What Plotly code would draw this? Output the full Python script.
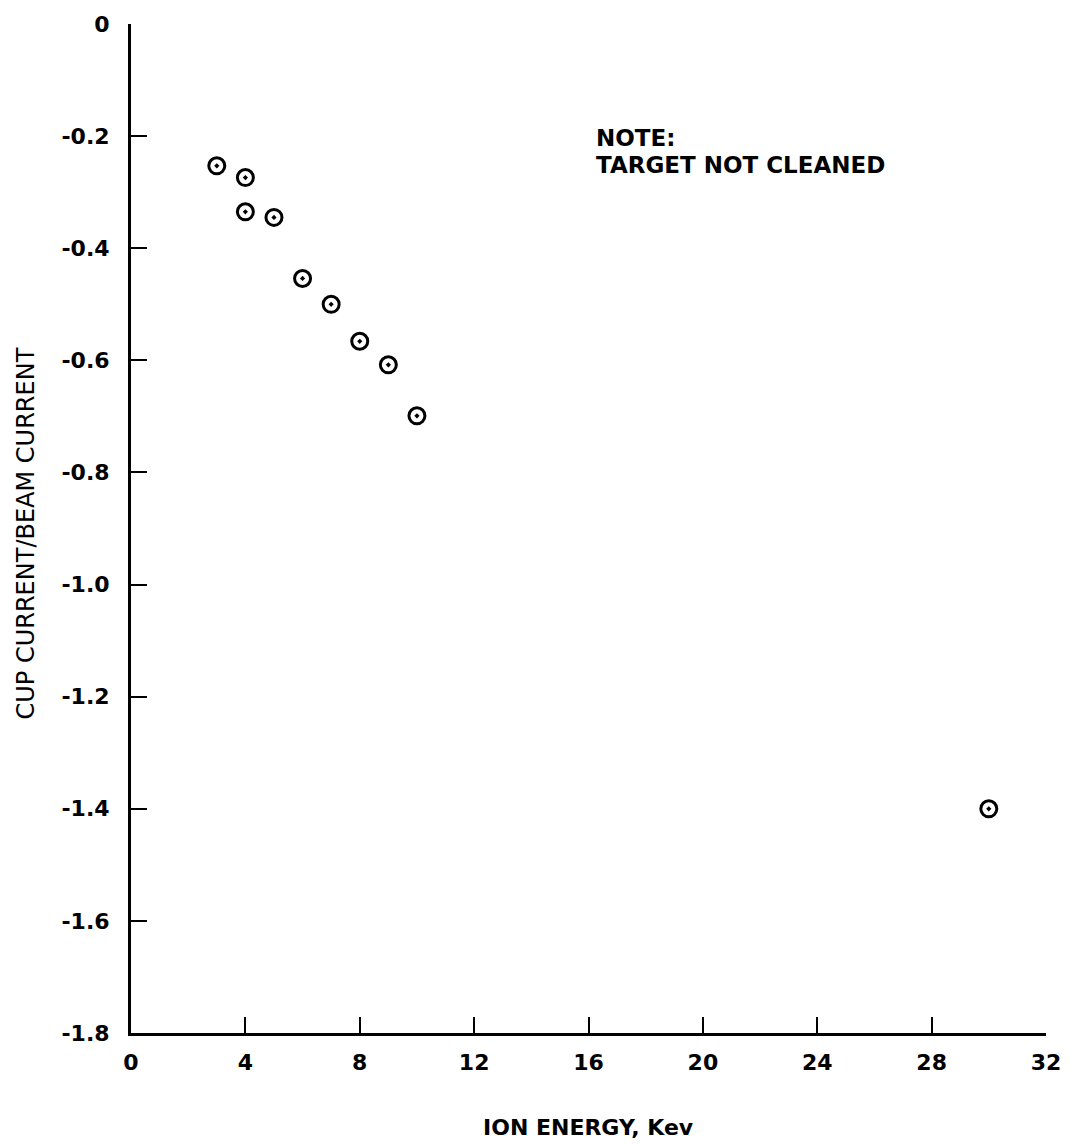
import plotly.graph_objects as go

# Data
ion_energy_kev = [3, 4, 4, 5, 6, 7, 8, 9, 10, 30]
cup_over_beam = [-0.253, -0.274, -0.335, -0.345, -0.454, -0.50, -0.566, -0.608, -0.699, -1.40]

x_tick_vals = [0, 4, 8, 12, 16, 20, 24, 28, 32]
y_tick_vals = [0, -0.2, -0.4, -0.6, -0.8, -1.0, -1.2, -1.4, -1.6, -1.8]
y_tick_text = ["0", "-0.2", "-0.4", "-0.6", "-0.8", "-1.0", "-1.2", "-1.4", "-1.6", "-1.8"]

FONT = "DejaVu Sans"

fig = go.Figure()
fig.add_trace(go.Scatter(
    x=ion_energy_kev, y=cup_over_beam, mode="markers",
    marker=dict(symbol="circle-open-dot", size=16, color="black",
                line=dict(width=3, color="black")),
    showlegend=False, hoverinfo="x+y",
))

fig.update_layout(
    width=1075, height=1146,
    margin=dict(l=131, r=29, t=18, b=113),
    paper_bgcolor="white", plot_bgcolor="white",
    font=dict(family=FONT, color="black"),
    xaxis=dict(range=[0, 32], tickvals=x_tick_vals, ticks="inside", ticklen=16,
               tickwidth=2, tickcolor="black", showline=True, linewidth=3,
               linecolor="black", showgrid=False, zeroline=False,
               tickfont=dict(family=FONT, size=22, weight="bold"),
               ticklabelstandoff=8),
    yaxis=dict(range=[-1.8, 0], tickvals=y_tick_vals, ticktext=y_tick_text,
               ticks="inside", ticklen=16, tickwidth=2, tickcolor="black",
               showline=True, linewidth=3, linecolor="black", showgrid=False,
               zeroline=False,
               tickfont=dict(family=FONT, size=22, weight="bold"),
               ticklabelstandoff=14),
    annotations=[
        dict(text="CUP CURRENT/BEAM CURRENT", xref="paper", yref="paper",
             x=0, y=0.5, xanchor="center", yanchor="middle", xshift=-106,
             yshift=-5, textangle=-90, showarrow=False,
             font=dict(family=FONT, size=24)),
        dict(text="ION ENERGY, Kev", xref="x", yref="paper", x=16, y=0,
             xanchor="center", yanchor="middle", yshift=-94, showarrow=False,
             font=dict(family=FONT, size=22, weight="bold")),
        dict(text="NOTE:", xref="x", yref="y",
             x=16.2, y=-0.204, xanchor="left", yanchor="middle", align="left",
             showarrow=False, font=dict(family=FONT, size=23, weight="bold")),
        dict(text="TARGET NOT CLEANED", xref="x", yref="y",
             x=16.2, y=-0.252, xanchor="left", yanchor="middle", align="left",
             showarrow=False, font=dict(family=FONT, size=23, weight="bold")),
    ],
)

fig.write_html("out.html")
